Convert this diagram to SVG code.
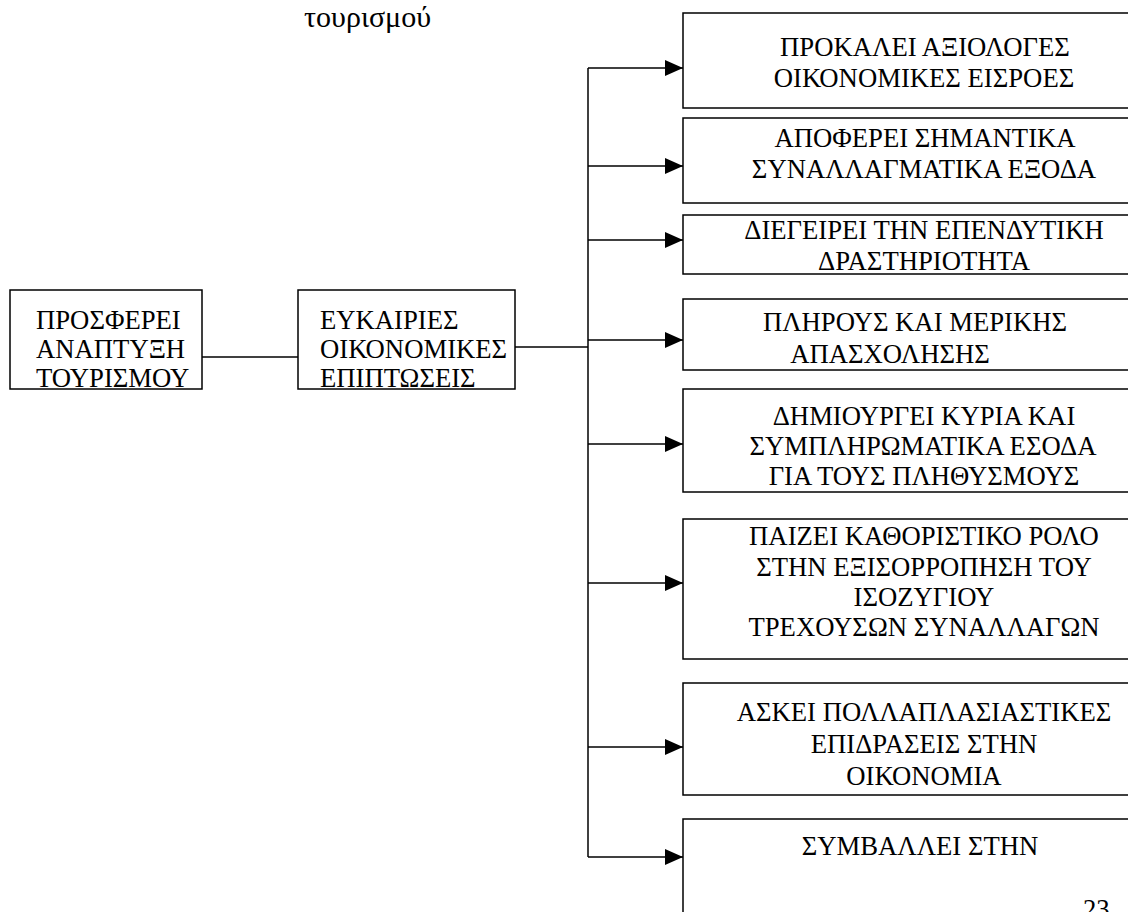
<svg xmlns="http://www.w3.org/2000/svg" width="1128" height="912" viewBox="0 0 1128 912" font-family="'Liberation Serif', 'DejaVu Serif', serif">
<defs>
<style>
.box{fill:#fff;stroke:#000;stroke-width:1.5}
.ln{fill:none;stroke:#000;stroke-width:1.5}
text{font-family:'Liberation Serif','DejaVu Serif',serif;font-size:26.7px;fill:#000}
.c{text-anchor:middle}
</style>
<marker id="ahb" viewBox="0 0 18 16" refX="18" refY="8" markerWidth="18" markerHeight="16" markerUnits="userSpaceOnUse" orient="auto">
<path d="M0,0 L18,8 L0,16 Z" fill="#000"/>
</marker>
</defs>
<rect width="1128" height="912" fill="#fff"/>
<text id="caption" x="304" y="27" style="font-size:30px">τουρισμού</text>

<g id="connectors">
<line class="ln" x1="202" y1="357" x2="298" y2="357"/>
<line class="ln" x1="515" y1="347" x2="588" y2="347"/>
<line class="ln" x1="588" y1="68" x2="588" y2="857"/>
<line class="ln" x1="588" y1="68" x2="683" y2="68" marker-end="url(#ahb)"/>
<line class="ln" x1="588" y1="166" x2="683" y2="166" marker-end="url(#ahb)"/>
<line class="ln" x1="588" y1="240" x2="683" y2="240" marker-end="url(#ahb)"/>
<line class="ln" x1="588" y1="340" x2="683" y2="340" marker-end="url(#ahb)"/>
<line class="ln" x1="588" y1="444" x2="683" y2="444" marker-end="url(#ahb)"/>
<line class="ln" x1="588" y1="583" x2="683" y2="583" marker-end="url(#ahb)"/>
<line class="ln" x1="588" y1="747" x2="683" y2="747" marker-end="url(#ahb)"/>
<line class="ln" x1="588" y1="857" x2="683" y2="857" marker-end="url(#ahb)"/>
</g>

<g id="nodeA">
<rect class="box" x="10" y="290" width="192" height="99"/>
<text x="36" y="329">ΠΡΟΣΦΕΡΕΙ</text>
<text x="36" y="358">ΑΝΑΠΤΥΞΗ</text>
<text x="36" y="387">ΤΟΥΡΙΣΜΟΥ</text>
</g>
<g id="nodeB">
<rect class="box" x="298" y="290" width="217" height="99"/>
<text x="320" y="329">ΕΥΚΑΙΡΙΕΣ</text>
<text x="320" y="358">ΟΙΚΟΝΟΜΙΚΕΣ</text>
<text x="320" y="387">ΕΠΙΠΤΩΣΕΙΣ</text>
</g>

<g id="r1">
<rect class="box" x="683" y="13" width="500" height="95"/>
<text class="c" x="925" y="56">ΠΡΟΚΑΛΕΙ ΑΞΙΟΛΟΓΕΣ</text>
<text class="c" x="924" y="87">ΟΙΚΟΝΟΜΙΚΕΣ ΕΙΣΡΟΕΣ</text>
</g>
<g id="r2">
<rect class="box" x="683" y="118" width="500" height="85"/>
<text class="c" x="925" y="147">ΑΠΟΦΕΡΕΙ ΣΗΜΑΝΤΙΚΑ</text>
<text class="c" x="924" y="178">ΣΥΝΑΛΛΑΓΜΑΤΙΚΑ ΕΞΟΔΑ</text>
</g>
<g id="r3">
<rect class="box" x="683" y="215" width="500" height="59"/>
<text class="c" x="924" y="239">ΔΙΕΓΕΙΡΕΙ ΤΗΝ ΕΠΕΝΔΥΤΙΚΗ</text>
<text class="c" x="924" y="270">ΔΡΑΣΤΗΡΙΟΤΗΤΑ</text>
</g>
<g id="r4">
<rect class="box" x="683" y="299" width="500" height="71"/>
<text class="c" x="915" y="331">ΠΛΗΡΟΥΣ ΚΑΙ ΜΕΡΙΚΗΣ</text>
<text class="c" x="890" y="363">ΑΠΑΣΧΟΛΗΣΗΣ</text>
</g>
<g id="r5">
<rect class="box" x="683" y="389" width="500" height="103"/>
<text class="c" x="924" y="425">ΔΗΜΙΟΥΡΓΕΙ ΚΥΡΙΑ ΚΑΙ</text>
<text class="c" x="923" y="455">ΣΥΜΠΛΗΡΩΜΑΤΙΚΑ ΕΣΟΔΑ</text>
<text class="c" x="924" y="485">ΓΙΑ ΤΟΥΣ ΠΛΗΘΥΣΜΟΥΣ</text>
</g>
<g id="r6">
<rect class="box" x="683" y="519" width="500" height="140"/>
<text class="c" x="924" y="545">ΠΑΙΖΕΙ ΚΑΘΟΡΙΣΤΙΚΟ ΡΟΛΟ</text>
<text class="c" x="924" y="576">ΣΤΗΝ ΕΞΙΣΟΡΡΟΠΗΣΗ ΤΟΥ</text>
<text class="c" x="924" y="606">ΙΣΟΖΥΓΙΟΥ</text>
<text class="c" x="924" y="636">ΤΡΕΧΟΥΣΩΝ ΣΥΝΑΛΛΑΓΩΝ</text>
</g>
<g id="r7">
<rect class="box" x="683" y="683" width="500" height="112"/>
<text class="c" x="924" y="721">ΑΣΚΕΙ ΠΟΛΛΑΠΛΑΣΙΑΣΤΙΚΕΣ</text>
<text class="c" x="924" y="753">ΕΠΙΔΡΑΣΕΙΣ ΣΤΗΝ</text>
<text class="c" x="924" y="785">ΟΙΚΟΝΟΜΙΑ</text>
</g>
<g id="r8">
<rect class="box" x="683" y="819" width="500" height="120"/>
<text class="c" x="920" y="855">ΣΥΜΒΑΛΛΕΙ ΣΤΗΝ</text>
</g>
<text id="pagenum" x="1083" y="918">23</text>
</svg>
